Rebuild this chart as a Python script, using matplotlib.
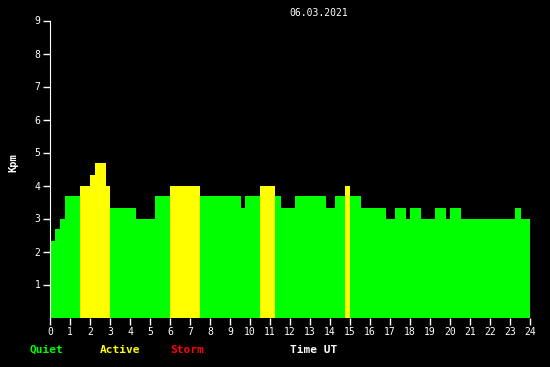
import numpy as np
import matplotlib.pyplot as plt

# Kp index, step data (hour edges and values)
t_edges = [0, 0.25, 0.5, 0.75, 1.5, 2.0, 2.25, 2.8, 3.0, 4.3, 5.25, 6.0, 7.5,
           9.55, 9.75, 10.5, 11.25, 11.55, 12.25, 13.8, 14.25, 14.75, 15.0,
           15.55, 16.8, 17.25, 17.8, 18.0, 18.55, 19.25, 19.8, 20.0, 20.55,
           23.25, 23.55, 24]
kp = [2.33, 2.67, 3.0, 3.67, 4.0, 4.33, 4.67, 4.0, 3.33, 3.0, 3.67, 4.0,
      3.67, 3.33, 3.67, 4.0, 3.67, 3.33, 3.67, 3.33, 3.67, 4.0, 3.67, 3.33,
      3.0, 3.33, 3.0, 3.33, 3.0, 3.33, 3.0, 3.33, 3.0, 3.33, 3.0]
date_label = '06.03.2021'

GREEN, YELLOW, RED = '#00ff00', '#ffff00', '#ff0000'

t_edges = np.array(t_edges)
kp = np.array(kp)
colors = [RED if v >= 5 else YELLOW if v >= 4 else GREEN for v in kp]

fig = plt.figure(figsize=(5.5, 3.67), dpi=100, facecolor='black')
ax = fig.add_axes([50/550, 49.5/367, 480/550, 297/367], facecolor='black')

ax.bar(t_edges[:-1], kp, width=np.diff(t_edges), align='edge',
       color=colors, linewidth=0)

ax.set_xlim(0, 24)
ax.set_ylim(0, 9)
ax.set_xticks(np.arange(0, 25, 1))
ax.set_xticks(np.arange(0, 24.01, 0.25), minor=True)
ax.set_yticks(np.arange(1, 10, 1))
ax.set_yticks(np.arange(0, 9.01, 1/3), minor=True)

mono = 'DejaVu Sans Mono'
ax.tick_params(colors='white', labelsize=7, width=1)
ax.tick_params(which='major', length=5, pad=2)
ax.tick_params(which='minor', length=3)
for lab in ax.get_xticklabels() + ax.get_yticklabels():
    lab.set_family(mono)

for s in ['top', 'right', 'bottom']:
    ax.spines[s].set_visible(False)
ax.spines['left'].set_color('white')

fig.text(319/550, 1 - 12.5/367, date_label, color='white', family=mono,
         fontsize=7, ha='center', va='center')
fig.text(13/550, 1 - 163/367, 'Kpm', color='white', family=mono,
         fontsize=7.5, fontweight='bold', rotation=90, ha='center', va='center')

legend_items = [('Quiet', GREEN, 30), ('Active', YELLOW, 100), ('Storm', RED, 170),
                ('Time UT', 'white', 290)]
for txt, col, x in legend_items:
    fig.text(x/550, 1 - 353/367, txt, color=col, family=mono,
             fontsize=8, fontweight='bold', ha='left', va='baseline')

fig.savefig('out.png', dpi=100, facecolor='black')
